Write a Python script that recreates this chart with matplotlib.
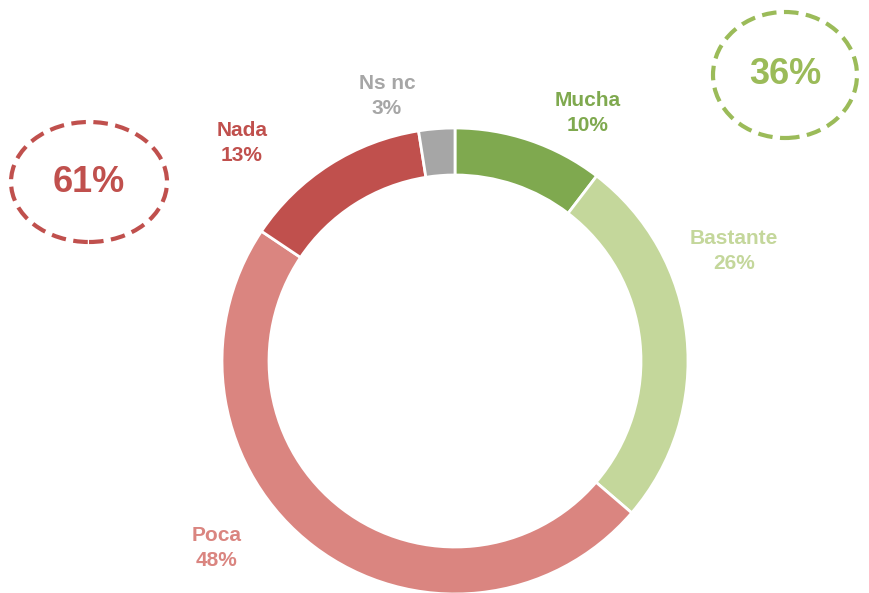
import matplotlib
matplotlib.use("Agg")
import matplotlib.pyplot as plt
from matplotlib.patches import Ellipse

# Data
labels = ["Mucha", "Bastante", "Poca", "Nada", "Ns nc"]
values = [10.4, 25.9, 48.1, 13.1, 2.5]
value_labels = ["10%", "26%", "48%", "13%", "3%"]
colors = ["#7FA94F", "#C4D79B", "#DA8580", "#C0504D", "#A6A6A6"]

# label positions in pixel coordinates (x, y from top)
label_pos = [(588, 113), (734, 251), (217, 548), (242, 143), (387, 96)]

summary_values = ["61%", "36%"]
summary_colors = ["#C0504D", "#9BBB59"]

plt.rcParams['font.family'] = ['Liberation Sans', 'DejaVu Sans']

W, H = 869, 593
fig = plt.figure(figsize=(W / 100, H / 100), dpi=100)
ax = fig.add_axes([0, 0, 1, 1])

ax.pie(values, colors=colors, startangle=90, counterclock=False,
       radius=233, center=(455, H - 361), frame=True,
       wedgeprops=dict(width=47, edgecolor='white', linewidth=2))
ax.set_xlim(0, W)
ax.set_ylim(0, H)
ax.set_aspect('equal')
ax.axis('off')

for lab, vl, col, (px, py) in zip(labels, value_labels, colors, label_pos):
    ax.text(px, H - py, f"{lab}\n{vl}", color=col, fontsize=15,
            fontweight='bold', ha='center', va='center', linespacing=1.45)

# dashed ellipses with totals
ell_specs = [((89, 182), 156, 120), ((785, 75), 144, 126)]
for spec, txt, col in zip(ell_specs, summary_values, summary_colors):
    (cx, cy), w, h = spec
    e = Ellipse((cx, H - cy), w, h, fill=False, edgecolor=col,
                linewidth=3, linestyle=(0, (3.5, 1.8)))
    ax.add_patch(e)
    ax.text(cx, H - cy, txt, color=col, fontsize=26, fontweight='bold',
            ha='center', va='center')

fig.savefig("out.png", dpi=100)
